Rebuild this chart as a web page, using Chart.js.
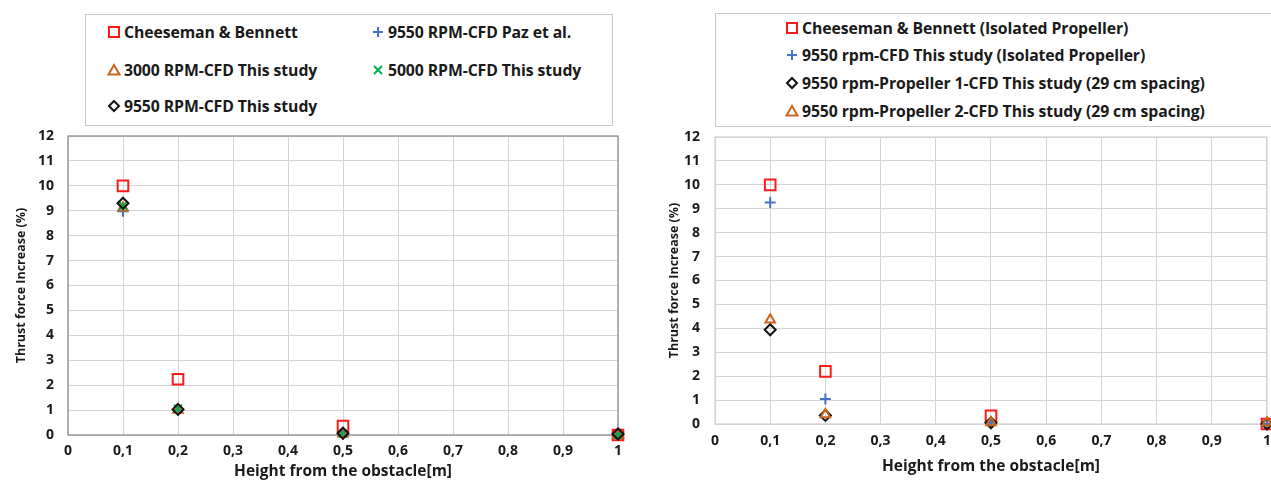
<!DOCTYPE html>
<html>
<head>
<meta charset="utf-8">
<script src="https://cdn.jsdelivr.net/npm/chart.js@4.4.1/dist/chart.umd.min.js"></script>
<style>
  html, body { margin: 0; padding: 0; background: #fff; overflow: hidden; }
  body { width: 1271px; height: 481px; position: relative; font-family: "Open Sans", sans-serif; }
  .panel { position: absolute; top: 0; height: 481px; }
  .legend { position: absolute; border: 1px solid #c8c8c8; background: #fff; box-sizing: border-box; }
  .item { position: absolute; display: flex; align-items: center; white-space: nowrap;
          font: 700 15.8px "Open Sans", sans-serif; color: #1a1a1a; letter-spacing: -0.1px; }
  .item svg { margin-right: 3px; }
</style>
</head>
<body>
<div class="panel" style="left:0;width:640px">
  <canvas id="chartLeft" width="640" height="481"></canvas>
  <div class="legend" id="legendLeft" style="left:85px;top:14px;width:528px;height:112px"></div>
</div>
<div class="panel" style="left:640px;width:640px">
  <canvas id="chartRight" width="640" height="481"></canvas>
  <div class="legend" id="legendRight" style="left:75px;top:13px;width:600px;height:114px"></div>
</div>
<script>
// Heights from the obstacle [m]
const heights = [0.1, 0.2, 0.5, 1];

// Left chart: thrust force increase (%)
const leftLabels = ['Cheeseman & Bennett', '9550 RPM-CFD Paz et al.', '3000 RPM-CFD This study',
                    '5000 RPM-CFD This study', '9550 RPM-CFD This study'];
const cheesemanL = [10, 2.24, 0.36, 0];
const pazL = [8.98, 1.0, 0.05, 0];
const rpm3000L = [9.12, 1.0, 0.05, 0];
const rpm5000L = [9.2, 1.06, 0.06, 0];
const rpm9550L = [9.3, 1.03, 0.07, 0.04];

// Right chart: thrust force increase (%)
const rightLabels = ['Cheeseman & Bennett (Isolated Propeller)', '9550 rpm-CFD This study (Isolated Propeller)',
                     '9550 rpm-Propeller 1-CFD This study (29 cm spacing)',
                     '9550 rpm-Propeller 2-CFD This study (29 cm spacing)'];
const cheesemanR = [10, 2.2, 0.34, 0];
const isolatedR = [9.26, 1.05, 0.05, 0];
const prop1R = [3.94, 0.36, 0.05, 0];
const prop2R = [4.36, 0.4, 0.06, 0.05];

const yTicks = [0, 12, 1];   // min, max, step
const xTicks = [0, 1, 0.1];

const RED = '#ff1a1a', BLUE = '#4472c4', ORANGE = '#c8651f', GREEN = '#00b050', BLACK = '#111';

function pts(ys) {
  return heights.map((h, i) => ({ x: h, y: ys[i] }));
}

function ds(label, ys, style, color, radius, order) {
  return {
    label: label,
    data: pts(ys),
    showLine: false,
    clip: false,
    pointStyle: style,
    pointRadius: radius,
    pointHoverRadius: radius,
    pointBorderColor: color,
    pointBackgroundColor: 'rgba(0,0,0,0)',
    pointBorderWidth: 2,
    order: order
  };
}

const framePlugin = {
  id: 'frame',
  beforeDatasetsDraw(chart, args, opts) {
    const a = chart.chartArea, c = chart.ctx;
    c.save();
    c.strokeStyle = opts.color;
    c.lineWidth = 1.3;
    c.strokeRect(a.left, a.top, a.right - a.left, a.bottom - a.top);
    c.restore();
  }
};

function tickFmt(v) {
  const r = Math.round(v * 10) / 10;
  return Number.isInteger(r) ? String(r) : r.toFixed(1).replace('.', ',');
}

function makeChart(id, datasets, cfg) {
  const ctx = document.getElementById(id).getContext('2d');
  return new Chart(ctx, {
    type: 'scatter',
    data: { datasets: datasets },
    options: {
      responsive: false,
      animation: false,
      events: [],
      layout: { padding: { left: 0, right: cfg.right, top: cfg.top, bottom: 0 } },
      plugins: {
        legend: { display: false },
        tooltip: { enabled: false },
        frame: { color: cfg.frame }
      },
      scales: {
        x: {
          type: 'linear',
          min: xTicks[0], max: xTicks[1],
          afterFit: (s) => { s.height = cfg.xh; },
          grid: { color: '#d4d4d4', drawTicks: false },
          border: { display: false },
          ticks: { stepSize: xTicks[2], padding: cfg.xpad, color: '#1a1a1a', callback: tickFmt,
                   font: { family: 'Open Sans', size: 14, weight: '700' } },
          title: { display: true, text: 'Height from the obstacle[m]', color: '#1a1a1a',
                   padding: { top: 0, bottom: cfg.xtb },
                   font: { family: 'Open Sans', size: 15.5, weight: '700' } }
        },
        y: {
          min: yTicks[0], max: yTicks[1],
          afterFit: (s) => { s.width = cfg.yw; },
          grid: { color: '#d4d4d4', drawTicks: false },
          border: { display: false },
          ticks: { stepSize: yTicks[2], padding: cfg.ypad, color: '#1a1a1a',
                   font: { family: 'Open Sans', size: 14, weight: '700' } },
          title: { display: true, text: 'Thrust force Increase (%)', color: '#1a1a1a',
                   padding: { top: cfg.ytp, bottom: 0 },
                   font: { family: 'Open Sans', size: 12.5, weight: '700' } }
        }
      }
    },
    plugins: [framePlugin]
  });
}

function markerSvg(style, color) {
  let shape = '';
  if (style === 'rect') shape = '<rect x="2" y="2" width="10" height="10" fill="none" stroke="' + color + '" stroke-width="2"/>';
  else if (style === 'cross') shape = '<path d="M7 2V12M2 7H12" stroke="' + color + '" stroke-width="2"/>';
  else if (style === 'crossRot') shape = '<path d="M3 3L11 11M11 3L3 11" stroke="' + color + '" stroke-width="2"/>';
  else if (style === 'triangle') shape = '<path d="M7 2L12.5 11.5H1.5Z" fill="none" stroke="' + color + '" stroke-width="2"/>';
  else if (style === 'rectRot') shape = '<path d="M7 2L12 7L7 12L2 7Z" fill="none" stroke="' + color + '" stroke-width="2"/>';
  return '<svg width="14" height="14" viewBox="0 0 14 14">' + shape + '</svg>';
}

function makeLegend(id, chart, order, places) {
  const box = document.getElementById(id);
  order.forEach((di, k) => {
    const d = chart.data.datasets[di];
    const el = document.createElement('div');
    el.className = 'item';
    el.style.left = places[k][0] + 'px';
    el.style.top = places[k][1] + 'px';
    el.innerHTML = markerSvg(d.pointStyle, d.pointBorderColor) + '<span>' + d.label + '</span>';
    box.appendChild(el);
  });
}

const leftChart = makeChart('chartLeft', [
  ds(leftLabels[0], cheesemanL, 'rect', RED, 7.5, 4),
  ds(leftLabels[1], pazL, 'cross', BLUE, 5.5, 3),
  ds(leftLabels[2], rpm3000L, 'triangle', ORANGE, 5.5, 2),
  ds(leftLabels[3], rpm5000L, 'crossRot', GREEN, 5.5, 1),
  ds(leftLabels[4], rpm9550L, 'rectRot', BLACK, 5.5, 0)
], { right: 22, top: 136, xh: 46, yw: 68, xpad: 8, xtb: 0, ypad: 14, ytp: 14, frame: '#8f8f8f' });

const rightChart = makeChart('chartRight', [
  ds(rightLabels[0], cheesemanR, 'rect', RED, 7.5, 3),
  ds(rightLabels[1], isolatedR, 'cross', BLUE, 5.5, 2),
  ds(rightLabels[2], prop1R, 'rectRot', BLACK, 5.5, 1),
  ds(rightLabels[3], prop2R, 'triangle', ORANGE, 5.5, 0)
], { right: 10, top: 137, xh: 57, yw: 75, xpad: 9, xtb: 5, ypad: 15, ytp: 27, frame: '#d4d4d4' });

makeLegend('legendLeft', leftChart, [0, 1, 2, 3, 4],
  [[21, 6], [285, 6], [21, 44], [285, 44], [21, 80]]);
makeLegend('legendRight', rightChart, [0, 1, 2, 3],
  [[69, 3], [69, 30], [69, 58], [69, 86]]);
</script>
</body>
</html>
